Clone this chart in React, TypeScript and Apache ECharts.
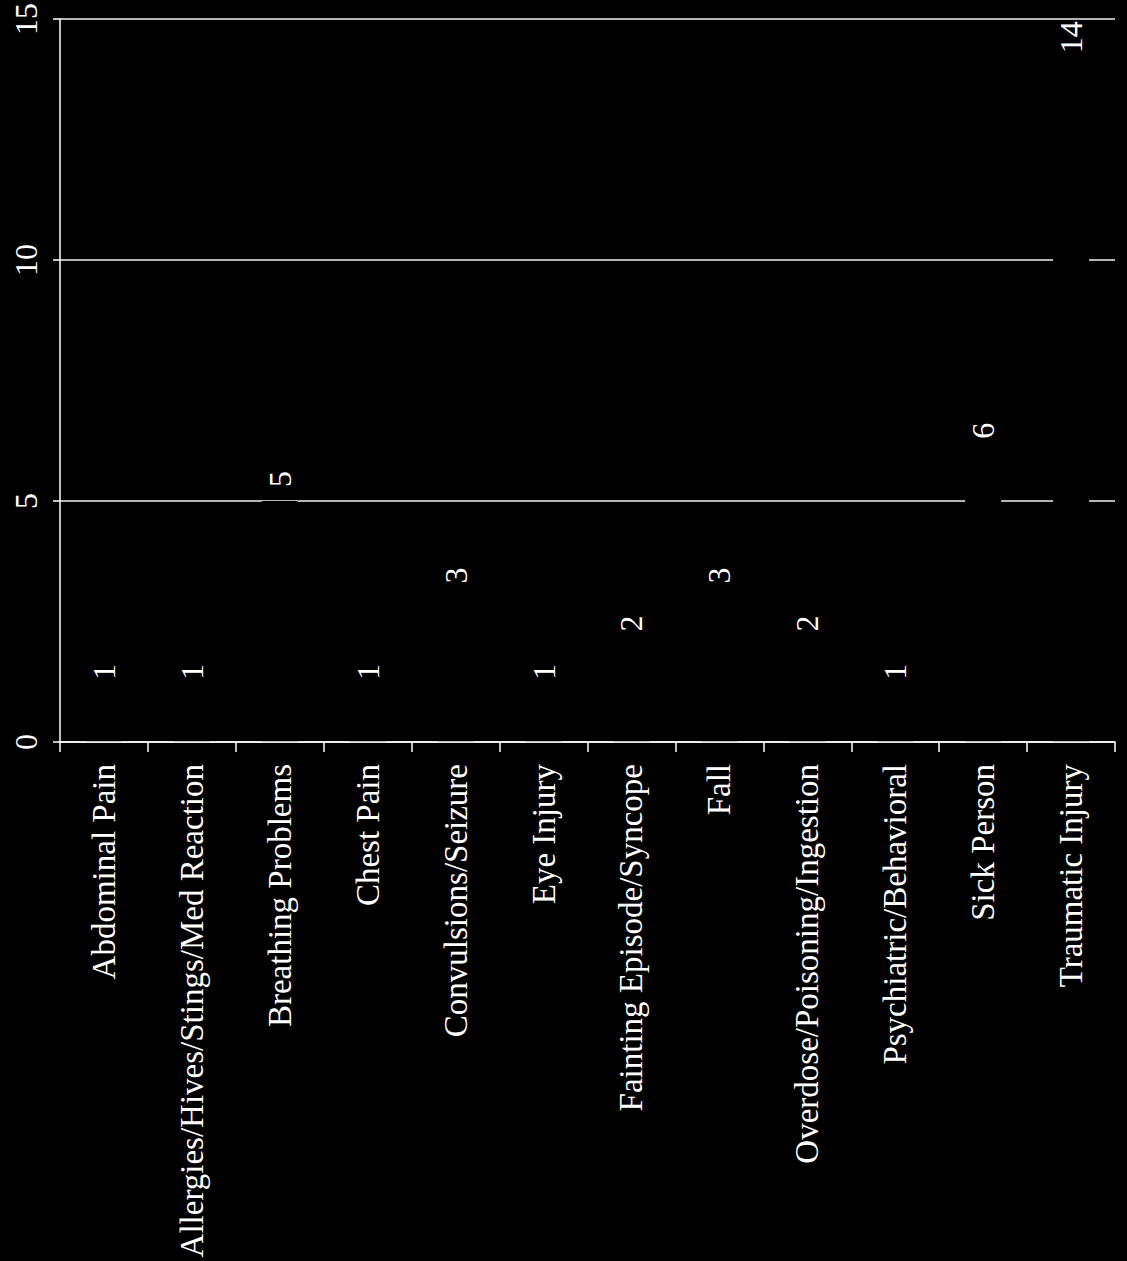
import React, { useEffect, useRef } from "react";
import * as echarts from "echarts";

const categories = [
  "Abdominal Pain",
  "Allergies/Hives/Stings/Med Reaction",
  "Breathing Problems",
  "Chest Pain",
  "Convulsions/Seizure",
  "Eye Injury",
  "Fainting Episode/Syncope",
  "Fall",
  "Overdose/Poisoning/Ingestion",
  "Psychiatric/Behavioral",
  "Sick Person",
  "Traumatic Injury",
];
const counts = [1, 1, 5, 1, 3, 1, 2, 3, 2, 1, 6, 14];
const valueMin = 0;
const valueMax = 15;
const valueStep = 5;

const FONT = "'Liberation Serif', 'Times New Roman', serif";

export default function App() {
  const ref = useRef<HTMLDivElement>(null);
  useEffect(() => {
    document.body.style.margin = "0";
    document.body.style.background = "#000";
    const chart = echarts.init(ref.current!, null, { renderer: "svg" });
    chart.setOption({
      animation: false,
      backgroundColor: "#000",
      grid: { left: 60, right: 12, top: 18, bottom: 519, containLabel: false },
      xAxis: {
        type: "category",
        data: categories,
        z: 10,
        axisLine: { show: true, lineStyle: { color: "#fff", width: 1.5 } },
        axisTick: { show: true, length: 10, lineStyle: { color: "#fff", width: 1.5 } },
        axisLabel: {
          rotate: 90,
          color: "#fff",
          fontSize: 33,
          fontFamily: FONT,
          margin: 22,
          interval: 0,
        },
        splitLine: { show: false },
      },
      yAxis: {
        type: "value",
        min: valueMin,
        max: valueMax,
        interval: valueStep,
        axisLine: { show: true, lineStyle: { color: "#fff", width: 1.5 } },
        axisTick: { show: true, length: 7, lineStyle: { color: "#fff", width: 1.5 } },
        axisLabel: {
          rotate: 90,
          color: "#fff",
          fontSize: 32,
          fontFamily: FONT,
          margin: 18,
        },
        splitLine: { show: true, lineStyle: { color: "#f0f0f0", width: 1.5 } },
      },
      series: [
        {
          type: "bar",
          data: counts,
          barWidth: 36,
          itemStyle: { color: "#000" },
          label: {
            show: true,
            position: "top",
            rotate: 90,
            align: "left",
            verticalAlign: "middle",
            distance: 14,
            color: "#fff",
            fontSize: 32,
            fontFamily: FONT,
          },
        },
      ],
    });
    return () => chart.dispose();
  }, []);
  return <div ref={ref} style={{ width: 1127, height: 1261, background: "#000" }} />;
}
